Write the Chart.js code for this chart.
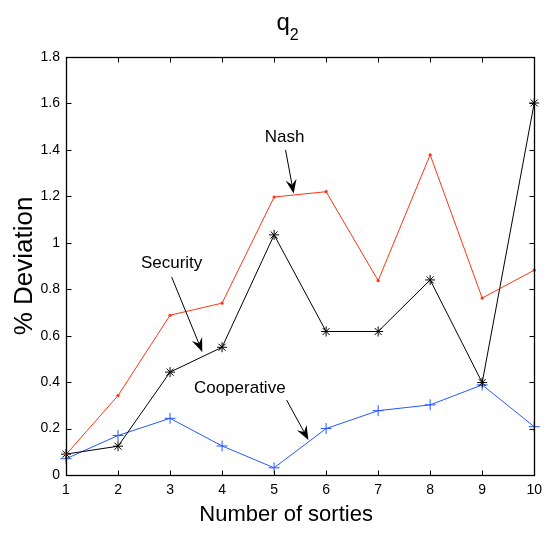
<!DOCTYPE html>
<html>
<head>
<meta charset="utf-8">
<script src="https://cdn.jsdelivr.net/npm/chart.js@4/dist/chart.umd.min.js"></script>
<style>
  html, body { margin: 0; padding: 0; background: #fff; }
  #wrap { width: 549px; height: 540px; }
</style>
</head>
<body>
<div id="wrap"><canvas id="q2Chart" width="549" height="540"></canvas></div>
<script>
// % deviation per number of sorties, for each strategy
var sorties = [1, 2, 3, 4, 5, 6, 7, 8, 9, 10];
var nash = [0.088, 0.342, 0.688, 0.74, 1.197, 1.22, 0.837, 1.379, 0.762, 0.882];
var security = [0.09, 0.124, 0.443, 0.55, 1.034, 0.618, 0.618, 0.84, 0.398, 1.602];
var cooperative = [0.07, 0.17, 0.244, 0.125, 0.031, 0.2, 0.277, 0.302, 0.388, 0.208];

var yTicks = [0, 0.2, 0.4, 0.6, 0.8, 1, 1.2, 1.4, 1.6, 1.8];

// callouts: label spot and arrow (tail -> head), all in data units
var callouts = [
  { text: 'Nash',        tx: 5.2,  ty: 1.455, x0: 5.22, y0: 1.40,  x1: 5.376, y1: 1.212 },
  { text: 'Security',    tx: 3.03, ty: 0.912, x0: 3.03, y0: 0.853, x1: 3.62,  y1: 0.53 },
  { text: 'Cooperative', tx: 4.34, ty: 0.375, x0: 5.24, y0: 0.323, x1: 5.66,  y1: 0.151 }
];

function pts(ys) {
  return sorties.map(function(s, i) { return { x: s, y: ys[i] }; });
}

var FONT = 'Liberation Sans, Arial, sans-serif';

// MATLAB-style box: frame plus inward ticks on all four sides, titles, callouts
var boxPlugin = {
  id: 'boxPlugin',
  afterDraw: function(chart) {
    var ctx = chart.ctx, a = chart.chartArea;
    var xs = chart.scales.x, ys = chart.scales.y;
    var L = Math.round(a.left) + 0.5, R = Math.round(a.right) + 0.5;
    var T = Math.round(a.top) + 0.5, B = Math.round(a.bottom) + 0.5;
    ctx.save();
    ctx.strokeStyle = '#000';
    ctx.lineWidth = 1.3;
    ctx.strokeRect(L, T, R - L, B - T);
    ctx.lineWidth = 1;
    ctx.beginPath();
    sorties.forEach(function(v) {
      var px = Math.round(xs.getPixelForValue(v)) + 0.5;
      ctx.moveTo(px, B); ctx.lineTo(px, B - 5);
      ctx.moveTo(px, T); ctx.lineTo(px, T + 5);
    });
    yTicks.forEach(function(v) {
      var py = Math.round(ys.getPixelForValue(v)) + 0.5;
      ctx.moveTo(L, py); ctx.lineTo(L + 5, py);
      ctx.moveTo(R, py); ctx.lineTo(R - 5, py);
    });
    ctx.stroke();

    var cx = (a.left + a.right) / 2 - 14;

    // title q with subscript 2
    ctx.fillStyle = '#000';
    ctx.textBaseline = 'alphabetic';
    ctx.textAlign = 'left';
    ctx.font = '24px ' + FONT;
    var qw = ctx.measureText('q').width;
    ctx.fillText('q', cx - qw / 2 - 3, 30);
    ctx.font = '16px ' + FONT;
    ctx.fillText('2', cx + qw / 2 - 3, 40);

    // x axis title
    ctx.font = '22px ' + FONT;
    ctx.textAlign = 'center';
    ctx.fillText('Number of sorties', cx, 521);

    // callouts with filled arrow heads
    callouts.forEach(function(c) {
      ctx.font = '17px ' + FONT;
      ctx.textAlign = 'center';
      ctx.textBaseline = 'middle';
      ctx.fillText(c.text, xs.getPixelForValue(c.tx), ys.getPixelForValue(c.ty));
      var x0 = xs.getPixelForValue(c.x0), y0 = ys.getPixelForValue(c.y0);
      var x1 = xs.getPixelForValue(c.x1), y1 = ys.getPixelForValue(c.y1);
      var ang = Math.atan2(y1 - y0, x1 - x0);
      var ux = Math.cos(ang), uy = Math.sin(ang);
      var len = 14, wid = 5.5, notch = 9;
      ctx.lineWidth = 1;
      ctx.beginPath();
      ctx.moveTo(x0, y0);
      ctx.lineTo(x1 - ux * notch, y1 - uy * notch);
      ctx.stroke();
      ctx.beginPath();
      ctx.moveTo(x1, y1);
      ctx.lineTo(x1 - ux * len - uy * wid, y1 - uy * len + ux * wid);
      ctx.lineTo(x1 - ux * notch, y1 - uy * notch);
      ctx.lineTo(x1 - ux * len + uy * wid, y1 - uy * len - ux * wid);
      ctx.closePath();
      ctx.fill();
    });
    ctx.restore();
  }
};

new Chart(document.getElementById('q2Chart'), {
  type: 'line',
  data: {
    datasets: [{
      label: 'Nash',
      data: pts(nash),
      borderColor: '#ff3414',
      backgroundColor: '#ff3414',
      borderWidth: 1,
      pointStyle: 'circle',
      pointRadius: 1.6,
      pointBorderWidth: 0,
      tension: 0
    }, {
      label: 'Security',
      data: pts(security),
      borderColor: '#000',
      backgroundColor: '#000',
      borderWidth: 1,
      pointStyle: 'star',
      pointRadius: 5,
      pointBorderWidth: 1,
      tension: 0
    }, {
      label: 'Cooperative',
      data: pts(cooperative),
      borderColor: '#2456ff',
      backgroundColor: '#2456ff',
      borderWidth: 1,
      pointStyle: 'cross',
      pointRadius: 5.5,
      pointBorderWidth: 1,
      tension: 0
    }]
  },
  options: {
    responsive: false,
    animation: false,
    clip: false,
    layout: { padding: { top: 57, right: 12, left: 0, bottom: 0 } },
    plugins: {
      legend: { display: false },
      title: { display: false },
      tooltip: { enabled: false }
    },
    scales: {
      x: {
        type: 'linear',
        min: 1,
        max: 10,
        afterFit: function(s) { s.height = 65; },
        afterBuildTicks: function(s) { s.ticks = sorties.map(function(v) { return { value: v }; }); },
        grid: { display: false, drawTicks: false },
        border: { display: false },
        ticks: { color: '#000', padding: 7, font: { family: FONT, size: 14 } }
      },
      y: {
        min: 0,
        max: 1.8,
        afterFit: function(s) { s.width = 66; },
        afterBuildTicks: function(s) { s.ticks = yTicks.map(function(v) { return { value: v }; }); },
        grid: { display: false, drawTicks: false },
        border: { display: false },
        ticks: {
          color: '#000',
          padding: 6,
          font: { family: FONT, size: 14 },
          callback: function(v) { return String(Math.round(v * 10) / 10); }
        },
        title: {
          display: true,
          text: '% Deviation',
          color: '#000',
          font: { family: FONT, size: 26 },
          padding: { top: 9, bottom: 0 }
        }
      }
    }
  },
  plugins: [boxPlugin]
});
</script>
</body>
</html>
